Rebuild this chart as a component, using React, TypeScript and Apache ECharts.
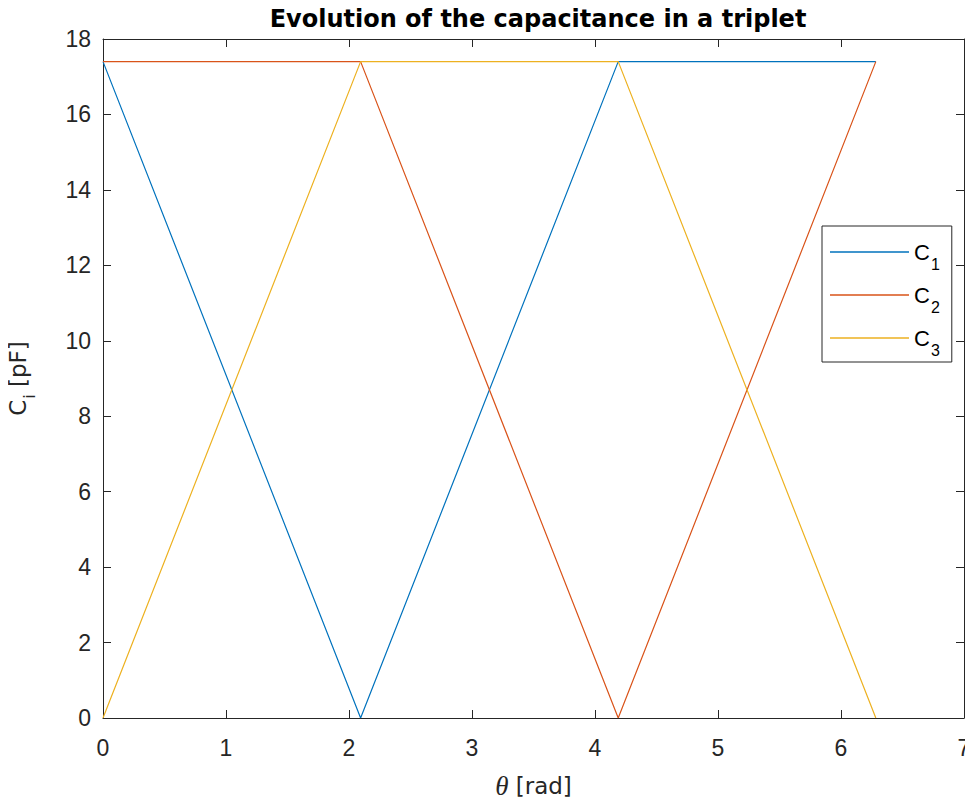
import React, { useEffect, useRef } from "react";
import * as echarts from "echarts";

// Rotor angle (rad) at the breakpoints of the piecewise-linear capacitance curves
const theta = [0, 2.0944, 4.1888, 6.2832];
// Capacitance of each electrode of the triplet (pF)
const c1 = [17.4, 0, 17.4, 17.4];
const c2 = [17.4, 17.4, 0, 17.4];
const c3 = [0, 17.4, 17.4, 0];

const seriesNames = ["C1", "C2", "C3"];
const seriesColors = ["#0072BD", "#D95319", "#EDB120"];
const seriesValues = [c1, c2, c3];

const xTicks = { min: 0, max: 7, interval: 1 };
const yTicks = { min: 0, max: 18, interval: 2 };

const TICK_FONT = "'Liberation Sans', Arial, Helvetica, sans-serif";
const LABEL_FONT = "'DejaVu Sans', 'Liberation Sans', sans-serif";
const INK = "#262626";

export default function App() {
  const ref = useRef<HTMLDivElement>(null);

  useEffect(() => {
    if (!ref.current) return;
    const chart = echarts.init(ref.current, undefined, { renderer: "svg" });

    const boxAxis = (show: boolean, margin = 12) => ({
      axisLine: { show: true, onZero: false, lineStyle: { color: INK, width: 1 } },
      axisTick: { show: true, inside: true, length: 8, lineStyle: { color: INK, width: 1 } },
      axisLabel: {
        show,
        color: INK,
        fontSize: 23,
        fontFamily: TICK_FONT,
        margin,
      },
      splitLine: { show: false },
    });

    chart.setOption({
      animation: false,
      backgroundColor: "#ffffff",
      textStyle: { fontFamily: TICK_FONT },
      title: {
        text: "Evolution of the capacitance in a triplet",
        left: 533,
        top: 2,
        textAlign: "center",
        textStyle: { fontFamily: LABEL_FONT, fontSize: 24, fontWeight: "bold", color: "#000" },
      },
      grid: {
        left: 103,
        right: 9,
        top: 39,
        bottom: 87,
        containLabel: false,
        outerBoundsMode: "none",
      },
      xAxis: [
        {
          type: "value",
          position: "bottom",
          ...xTicks,
          ...boxAxis(true, 18),
          name: "{t|θ} {r|[rad]}",
          nameLocation: "middle",
          nameGap: 54,
          nameTextStyle: {
            color: INK,
            fontSize: 23,
            fontFamily: LABEL_FONT,
            rich: {
              t: { fontSize: 27, fontStyle: "italic", fontFamily: "'Liberation Serif', serif", color: INK },
              r: { fontSize: 23, fontFamily: LABEL_FONT, color: INK },
            },
          },
        },
        {
          type: "value",
          position: "top",
          ...xTicks,
          ...boxAxis(false),
        },
      ],
      yAxis: [
        {
          type: "value",
          position: "left",
          ...yTicks,
          ...boxAxis(true),
          name: "{c|C}{s|i}{c| [pF]}",
          nameLocation: "middle",
          nameGap: 70,
          nameRotate: 90,
          nameTextStyle: {
            color: INK,
            rich: {
              c: { fontSize: 23, fontFamily: LABEL_FONT, color: INK, lineHeight: 30, verticalAlign: "middle" },
              s: { fontSize: 16, fontFamily: LABEL_FONT, color: INK, lineHeight: 10, verticalAlign: "top", padding: [18, 0, 0, 1] },
            },
          },
        },
        {
          type: "value",
          position: "right",
          ...yTicks,
          ...boxAxis(false),
        },
      ],
      legend: {
        show: true,
        orient: "vertical",
        left: 822,
        top: 226,
        padding: [11, 12, 3, 8],
        itemGap: 7,
        itemWidth: 79,
        itemHeight: 1.4,
        icon: "rect",
        backgroundColor: "#ffffff",
        borderColor: INK,
        borderWidth: 1,
        borderRadius: 0,
        formatter: (name: string) => `{c|${name.charAt(0)}}{s|${name.slice(1)}}`,
        textStyle: {
          color: "#000",
          rich: {
            c: { fontSize: 22, fontFamily: TICK_FONT, color: "#000", lineHeight: 30, verticalAlign: "middle" },
            s: { fontSize: 16, fontFamily: TICK_FONT, color: "#000", lineHeight: 10, verticalAlign: "top", padding: [20, 0, 0, 1] },
          },
        },
      },
      series: seriesNames.map((name, i) => ({
        name,
        type: "line",
        xAxisIndex: 0,
        yAxisIndex: 0,
        symbol: "none",
        color: seriesColors[i],
        lineStyle: { width: 1.2, color: seriesColors[i] },
        data: theta.map((t, k) => [t, seriesValues[i][k]]),
      })),
    });

    return () => chart.dispose();
  }, []);

  return <div ref={ref} style={{ width: 973, height: 805, margin: -8 }} />;
}
